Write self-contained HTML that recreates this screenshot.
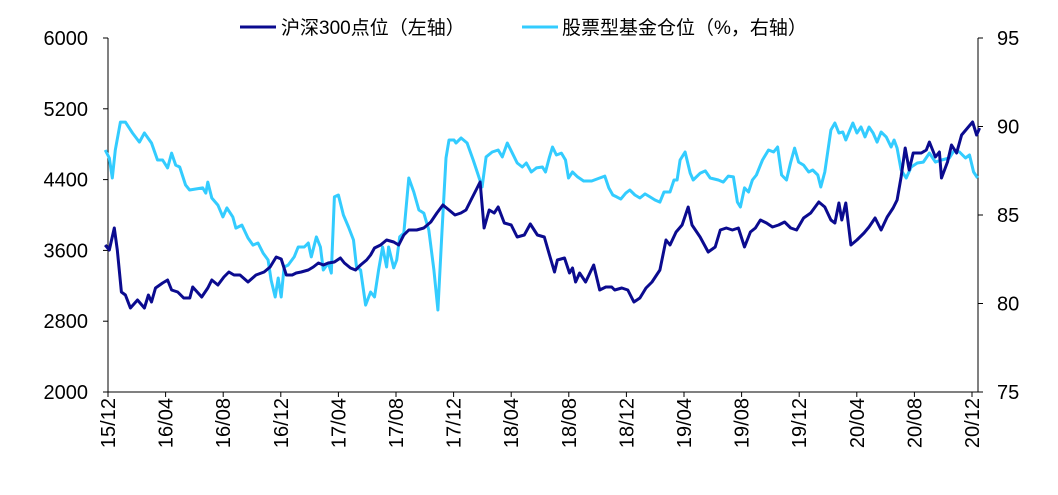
<!DOCTYPE html>
<html><head><meta charset="utf-8"><style>
html,body{margin:0;padding:0;background:#fff;}
svg{display:block;font-family:"Liberation Sans","Noto Sans CJK SC",sans-serif;}
</style></head><body>
<svg id="chart" width="1058" height="495" viewBox="0 0 1058 495" xmlns="http://www.w3.org/2000/svg">
<g id="legend">
  <line x1="240" y1="27" x2="276" y2="27" stroke="#0b0b8f" stroke-width="3"/>
  <text x="281" y="34" font-size="19" fill="#000">沪深300点位（左轴）</text>
  <line x1="522" y1="27" x2="558" y2="27" stroke="#33ccff" stroke-width="3"/>
  <text x="562" y="34" font-size="19" fill="#000">股票型基金仓位（%，右轴）</text>
</g>
<g id="axes"></g>
<g id="series"></g>
</svg>
<script>
const xTickLabels = ["15/12","16/04","16/08","16/12","17/04","17/08","17/12","18/04","18/08","18/12","19/04","19/08","19/12","20/04","20/08","20/12"];
const leftTicks = [2000,2800,3600,4400,5200,6000];
const rightTicks = [75,80,85,90,95];
const csiMonths = [-0.33,-0.05,0.30,0.51,0.79,1.07,1.42,1.91,2.39,2.67,2.88,3.16,3.65,4.00,4.28,4.70,5.12,5.54,5.74,6.37,6.79,7.07,7.49,7.91,8.26,8.61,9.03,9.58,10.14,10.70,11.12,11.54,11.89,12.24,12.65,12.93,13.28,13.77,14.12,14.47,14.81,15.16,15.58,16.00,16.28,16.70,17.05,17.40,17.82,18.10,18.37,18.79,19.21,19.70,20.05,20.40,20.75,21.30,21.79,22.28,22.70,23.12,23.54,23.96,24.37,24.72,25.07,25.49,25.70,25.98,26.33,26.68,26.96,27.38,27.86,28.28,28.77,29.19,29.68,30.16,30.52,30.87,31.07,31.56,31.91,32.12,32.33,32.61,33.03,33.59,34.01,34.43,34.84,35.05,35.54,35.96,36.38,36.80,37.22,37.64,38.19,38.61,38.89,39.31,39.73,40.15,40.42,40.98,41.54,42.03,42.38,42.80,43.22,43.64,44.06,44.47,44.82,45.17,45.59,46.01,46.43,46.85,47.27,47.68,48.17,48.66,49.22,49.64,50.06,50.34,50.62,50.82,51.10,51.45,51.87,52.36,52.71,53.13,53.55,53.97,54.38,54.66,54.94,55.22,55.50,55.78,56.34,56.69,56.90,57.32,57.60,57.74,58.16,58.44,58.79,59.14,59.55,59.90,60.18,60.39];
const csiValues = [3661,3604,3853,3604,3130,3096,2949,3039,2949,3096,3017,3175,3232,3265,3152,3130,3062,3062,3186,3073,3175,3265,3209,3299,3356,3322,3322,3243,3322,3356,3412,3525,3503,3322,3322,3345,3356,3378,3412,3458,3435,3458,3469,3514,3458,3401,3378,3435,3491,3548,3627,3661,3717,3695,3661,3774,3830,3830,3853,3921,4023,4113,4056,4000,4023,4056,4169,4305,4373,3853,4056,4023,4090,3910,3887,3751,3774,3898,3774,3751,3548,3356,3491,3514,3345,3401,3243,3345,3243,3435,3152,3186,3186,3152,3175,3152,3017,3062,3175,3243,3378,3717,3661,3808,3887,4090,3887,3751,3582,3638,3830,3853,3830,3853,3638,3808,3853,3943,3910,3864,3887,3921,3853,3830,3966,4023,4147,4090,3943,3910,4136,3943,4136,3661,3717,3797,3864,3966,3830,3977,4079,4169,4429,4757,4508,4701,4701,4734,4825,4655,4712,4418,4599,4791,4701,4904,4983,5051,4904,4983];
const fundMonths = [-0.33,-0.05,0.16,0.37,0.72,1.07,1.56,2.04,2.39,2.88,3.30,3.65,4.00,4.28,4.56,4.84,5.25,5.53,5.95,6.44,6.65,6.79,7.07,7.49,7.84,8.12,8.53,8.74,9.16,9.58,9.93,10.28,10.63,10.98,11.19,11.47,11.68,11.89,12.09,12.37,12.79,13.07,13.49,13.77,13.98,14.33,14.61,14.81,15.16,15.37,15.58,15.86,16.21,16.56,16.91,17.12,17.40,17.75,18.10,18.37,18.65,18.93,19.21,19.35,19.70,19.91,20.12,20.40,20.75,21.10,21.45,21.79,22.14,22.49,22.77,23.05,23.33,23.54,23.89,24.03,24.38,24.80,25.22,25.57,25.84,26.12,26.54,26.96,27.24,27.59,27.94,28.28,28.63,28.91,29.26,29.61,30.03,30.24,30.52,30.73,31.00,31.35,31.63,31.84,32.12,32.47,32.89,33.45,34.01,34.36,34.64,34.92,35.19,35.47,35.82,36.10,36.45,36.80,37.15,37.50,37.85,38.19,38.47,38.89,39.17,39.38,39.59,39.94,40.29,40.50,40.99,41.34,41.68,42.24,42.59,42.94,43.29,43.57,43.78,44.06,44.34,44.61,44.89,45.31,45.73,46.08,46.36,46.64,46.98,47.26,47.54,47.82,48.17,48.52,48.80,49.15,49.36,49.64,50.06,50.34,50.62,50.89,51.10,51.38,51.59,51.87,52.15,52.43,52.71,52.99,53.27,53.55,53.90,54.24,54.45,54.66,54.94,55.29,55.64,56.06,56.48,56.90,57.32,57.74,58.29,58.64,58.99,59.41,59.69,59.97,60.25];
const fundValues = [88.67,88.22,87.09,88.67,90.25,90.25,89.63,89.12,89.63,89.07,88.11,88.11,87.66,88.50,87.82,87.71,86.69,86.41,86.47,86.53,86.24,86.86,85.96,85.56,84.89,85.40,84.89,84.26,84.43,83.70,83.30,83.42,82.85,82.46,81.33,80.37,81.44,80.37,82.06,82.17,82.63,83.19,83.19,83.42,82.63,83.76,83.19,81.89,82.29,81.72,86.02,86.13,85.00,84.32,83.59,82.06,81.89,79.91,80.65,80.37,81.89,83.19,82.06,83.19,82.01,82.46,83.76,83.98,87.09,86.30,85.28,85.11,84.15,81.89,79.63,83.98,88.22,89.24,89.24,89.07,89.35,89.07,88.11,87.26,86.58,88.28,88.56,88.67,88.28,89.07,88.50,87.94,87.71,87.94,87.43,87.66,87.71,87.43,88.28,88.84,88.39,88.50,88.11,87.09,87.43,87.15,86.92,86.92,87.09,87.20,86.53,86.13,86.02,85.90,86.24,86.41,86.13,85.96,86.19,86.02,85.85,85.73,86.30,86.30,86.98,86.98,88.11,88.56,87.37,86.98,87.37,87.49,87.09,86.98,86.86,87.20,87.15,85.73,85.45,86.53,86.30,86.98,87.26,88.11,88.67,88.56,88.84,87.26,86.98,87.94,88.78,87.99,87.82,87.43,87.54,87.26,86.58,87.43,89.80,90.20,89.63,89.69,89.24,89.80,90.20,89.63,89.97,89.41,89.97,89.63,89.12,89.69,89.41,88.84,89.24,88.78,87.54,87.09,87.71,87.94,87.99,88.50,87.99,88.11,88.22,88.67,88.56,88.22,88.39,87.43,87.09];

const NS = "http://www.w3.org/2000/svg";
const X0 = 110, PX_PER_MONTH = 14.4;
const TOP = 38, BOT = 392, LEFT = 108, RIGHT = 978;
function xScale(m){ return X0 + m * PX_PER_MONTH; }
function yLeft(v){ return TOP + (6000 - v) / 4000 * (BOT - TOP); }
function yRight(v){ return TOP + (95 - v) / 20 * (BOT - TOP); }
function mk(tag, attrs, parent){
  const e = document.createElementNS(NS, tag);
  for (const k in attrs) e.setAttribute(k, attrs[k]);
  parent.appendChild(e);
  return e;
}
const axes = document.getElementById('axes');
const series = document.getElementById('series');

let el = mk('line', {x1:LEFT, y1:TOP, x2:LEFT, y2:BOT, stroke:'#000', 'stroke-width':1}, axes);


el = mk('line', {x1:RIGHT, y1:TOP, x2:RIGHT, y2:BOT, stroke:'#000', 'stroke-width':1}, axes);


el = mk('line', {x1:LEFT-5, y1:BOT, x2:RIGHT, y2:BOT, stroke:'#000', 'stroke-width':1}, axes);



leftTicks.forEach(v => {
  const y = yLeft(v);
  let t = mk('line', {x1:LEFT-5, y1:y, x2:LEFT, y2:y, stroke:'#000'}, axes);
  
  
  let tx = mk('text', {x:88, y:y+7, 'text-anchor':'end', 'font-size':20, fill:'#000'}, axes);
  tx.textContent = v;
  
  
});
rightTicks.forEach(v => {
  const y = yRight(v);
  let t = mk('line', {x1:RIGHT, y1:y, x2:RIGHT+5, y2:y, stroke:'#000'}, axes);
  
  
  let tx = mk('text', {x:RIGHT+19, y:y+7, 'text-anchor':'start', 'font-size':20, fill:'#000'}, axes);
  tx.textContent = v;
  
  
});
xTickLabels.forEach((lab, i) => {
  const x = Math.min(xScale(i*4) - 2, RIGHT);
  let t = mk('line', {x1:x, y1:BOT, x2:x, y2:BOT+5, stroke:'#000'}, axes);
  
  
  let tx = mk('text', {x:0, y:0, 'text-anchor':'end', 'font-size':20, fill:'#000', transform:`translate(${x+7},${BOT+6}) rotate(-90)`}, axes);
  tx.textContent = lab;
  
  
});

function pathFrom(ms, vs, ys){
  return ms.map((m,i)=>(i?'L':'M')+xScale(m).toFixed(1)+','+ys(vs[i]).toFixed(1)).join(' ');
}
let p = mk('path', {d:pathFrom(fundMonths, fundValues, yRight), fill:'none', stroke:'#33ccff', 'stroke-width':3, 'stroke-linejoin':'round'}, series);


p = mk('path', {d:pathFrom(csiMonths, csiValues, yLeft), fill:'none', stroke:'#0b0b8f', 'stroke-width':3, 'stroke-linejoin':'round'}, series);


</script>
</body></html>
